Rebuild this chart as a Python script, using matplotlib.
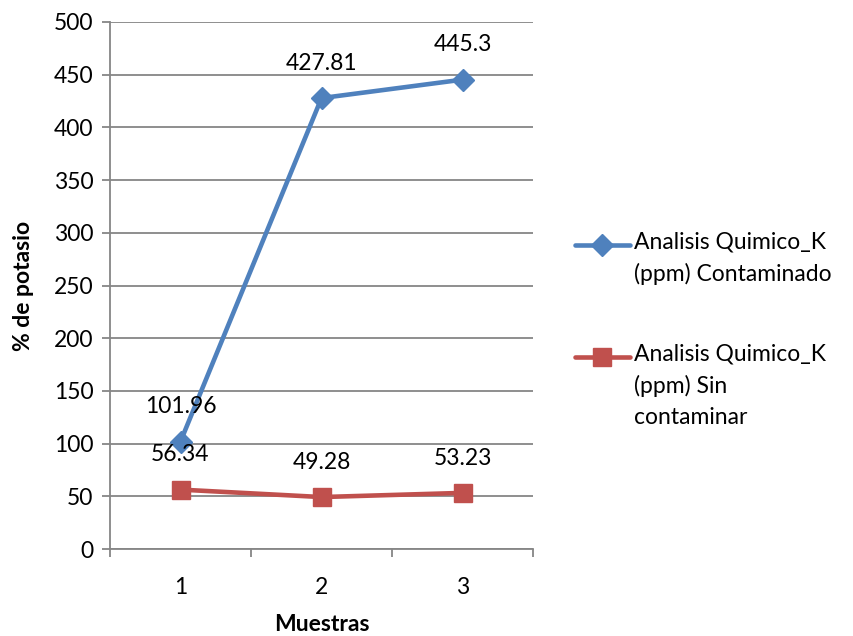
import matplotlib
matplotlib.use("Agg")
import matplotlib.pyplot as plt
from matplotlib.lines import Line2D

plt.rcParams['font.family'] = ['Lato', 'DejaVu Sans']

muestras = [1, 2, 3]
contaminado = [101.96, 427.81, 445.3]
sin_contaminar = [56.34, 49.28, 53.23]
etiquetas = ["Analisis Quimico_K\n(ppm) Contaminado",
             "Analisis Quimico_K\n(ppm) Sin\ncontaminar"]

azul = "#4F81BD"
rojo = "#C0504D"
gris = "#868686"
fs = 16.5

W, H = 854, 636
fig = plt.figure(figsize=(W / 100, H / 100), dpi=100)
ax = fig.add_axes([110 / W, 1 - 549 / H, 423 / W, 527 / H])

estilos = [dict(color=azul, marker="D", ms=11), dict(color=rojo, marker="s", ms=12.5)]
for serie, est in zip((contaminado, sin_contaminar), estilos):
    ax.plot(muestras, serie, lw=3.3, solid_capstyle="round", **est)
    for x, v in zip(muestras, serie):
        ax.annotate(f"{v:g}", (x, v), xytext=(0, 25), textcoords="offset points",
                    ha="center", va="center", fontsize=fs)

ax.set_xlim(0.5, 3.5)
ax.set_ylim(0, 500)
ax.set_yticks(range(0, 501, 50))
ax.set_xticks(muestras)
ax.set_xticks([0.5, 1.5, 2.5, 3.5], minor=True)
ax.yaxis.grid(True, color=gris, lw=1.3)
ax.set_axisbelow(True)
for s in ("top", "right"):
    ax.spines[s].set_visible(False)
for s in ("left", "bottom"):
    ax.spines[s].set_color(gris)
    ax.spines[s].set_linewidth(1.3)
ax.tick_params(axis="y", length=6, width=1.3, color=gris, labelsize=fs, pad=6)
ax.tick_params(axis="x", which="major", length=0, labelsize=fs, pad=20)
ax.tick_params(axis="x", which="minor", length=6, width=1.3, color=gris)

ax.set_xlabel("Muestras", fontsize=fs, fontweight="bold", labelpad=12)
ax.set_ylabel("% de potasio", fontsize=fs, fontweight="bold", labelpad=14)

# leyenda dibujada a mano: el simbolo queda a la altura de la primera linea
for y, texto, est in zip((245, 357), etiquetas, estilos):
    fig.add_artist(Line2D([575 / W, 630 / W], [1 - y / H] * 2, lw=3.3,
                          solid_capstyle="round", markevery=[],
                          transform=fig.transFigure, color=est["color"]))
    fig.add_artist(Line2D([602 / W], [1 - y / H], lw=0, transform=fig.transFigure,
                          **est))
    fig.text(634 / W, 1 - (y - 14) / H, texto, fontsize=fs, va="top", ha="left",
             linespacing=1.6)

fig.savefig("out.png", dpi=100)
